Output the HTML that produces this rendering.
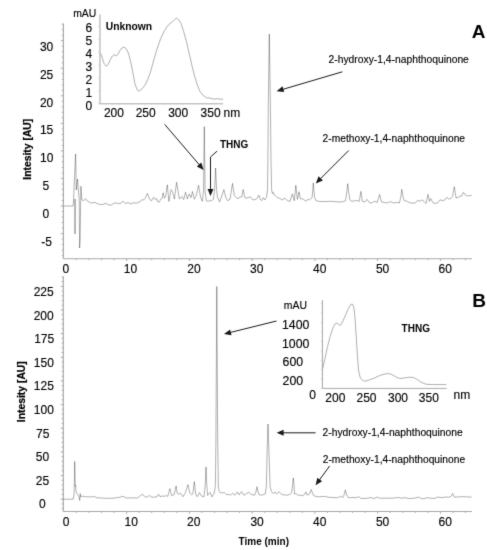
<!DOCTYPE html>
<html><head><meta charset="utf-8"><style>
html,body{margin:0;padding:0;background:#fff;}
svg{display:block;font-family:"Liberation Sans", sans-serif;}
</style></head><body>
<svg width="487" height="550" viewBox="0 0 487 550">
<defs><filter id="bl" x="0" y="0" width="487" height="550" filterUnits="userSpaceOnUse" color-interpolation-filters="sRGB"><feConvolveMatrix order="3" kernelMatrix="0.0113 0.0838 0.0113 0.0838 0.6193 0.0838 0.0113 0.0838 0.0113" divisor="1" edgeMode="duplicate"/></filter></defs>
<g filter="url(#bl)">
<rect width="487" height="550" fill="#fff"/>
<line x1="63.4" y1="23.5" x2="63.4" y2="258.7" stroke="#a9a9a9" stroke-width="1.2"/>
<line x1="61.8" y1="255.6" x2="63.4" y2="255.6" stroke="#a9a9a9" stroke-width="1.0"/>
<line x1="61.8" y1="250.1" x2="63.4" y2="250.1" stroke="#a9a9a9" stroke-width="1.0"/>
<line x1="61.8" y1="244.6" x2="63.4" y2="244.6" stroke="#a9a9a9" stroke-width="1.0"/>
<line x1="61.8" y1="239.1" x2="63.4" y2="239.1" stroke="#a9a9a9" stroke-width="1.0"/>
<line x1="60.8" y1="233.6" x2="63.4" y2="233.6" stroke="#a9a9a9" stroke-width="1.0"/>
<line x1="61.8" y1="228.0" x2="63.4" y2="228.0" stroke="#a9a9a9" stroke-width="1.0"/>
<line x1="61.8" y1="222.5" x2="63.4" y2="222.5" stroke="#a9a9a9" stroke-width="1.0"/>
<line x1="61.8" y1="217.0" x2="63.4" y2="217.0" stroke="#a9a9a9" stroke-width="1.0"/>
<line x1="61.8" y1="211.5" x2="63.4" y2="211.5" stroke="#a9a9a9" stroke-width="1.0"/>
<line x1="60.8" y1="206.0" x2="63.4" y2="206.0" stroke="#a9a9a9" stroke-width="1.0"/>
<line x1="61.8" y1="200.5" x2="63.4" y2="200.5" stroke="#a9a9a9" stroke-width="1.0"/>
<line x1="61.8" y1="195.0" x2="63.4" y2="195.0" stroke="#a9a9a9" stroke-width="1.0"/>
<line x1="61.8" y1="189.5" x2="63.4" y2="189.5" stroke="#a9a9a9" stroke-width="1.0"/>
<line x1="61.8" y1="184.0" x2="63.4" y2="184.0" stroke="#a9a9a9" stroke-width="1.0"/>
<line x1="60.8" y1="178.4" x2="63.4" y2="178.4" stroke="#a9a9a9" stroke-width="1.0"/>
<line x1="61.8" y1="172.9" x2="63.4" y2="172.9" stroke="#a9a9a9" stroke-width="1.0"/>
<line x1="61.8" y1="167.4" x2="63.4" y2="167.4" stroke="#a9a9a9" stroke-width="1.0"/>
<line x1="61.8" y1="161.9" x2="63.4" y2="161.9" stroke="#a9a9a9" stroke-width="1.0"/>
<line x1="61.8" y1="156.4" x2="63.4" y2="156.4" stroke="#a9a9a9" stroke-width="1.0"/>
<line x1="60.8" y1="150.9" x2="63.4" y2="150.9" stroke="#a9a9a9" stroke-width="1.0"/>
<line x1="61.8" y1="145.4" x2="63.4" y2="145.4" stroke="#a9a9a9" stroke-width="1.0"/>
<line x1="61.8" y1="139.9" x2="63.4" y2="139.9" stroke="#a9a9a9" stroke-width="1.0"/>
<line x1="61.8" y1="134.4" x2="63.4" y2="134.4" stroke="#a9a9a9" stroke-width="1.0"/>
<line x1="61.8" y1="128.9" x2="63.4" y2="128.9" stroke="#a9a9a9" stroke-width="1.0"/>
<line x1="60.8" y1="123.4" x2="63.4" y2="123.4" stroke="#a9a9a9" stroke-width="1.0"/>
<line x1="61.8" y1="117.8" x2="63.4" y2="117.8" stroke="#a9a9a9" stroke-width="1.0"/>
<line x1="61.8" y1="112.3" x2="63.4" y2="112.3" stroke="#a9a9a9" stroke-width="1.0"/>
<line x1="61.8" y1="106.8" x2="63.4" y2="106.8" stroke="#a9a9a9" stroke-width="1.0"/>
<line x1="61.8" y1="101.3" x2="63.4" y2="101.3" stroke="#a9a9a9" stroke-width="1.0"/>
<line x1="60.8" y1="95.8" x2="63.4" y2="95.8" stroke="#a9a9a9" stroke-width="1.0"/>
<line x1="61.8" y1="90.3" x2="63.4" y2="90.3" stroke="#a9a9a9" stroke-width="1.0"/>
<line x1="61.8" y1="84.8" x2="63.4" y2="84.8" stroke="#a9a9a9" stroke-width="1.0"/>
<line x1="61.8" y1="79.3" x2="63.4" y2="79.3" stroke="#a9a9a9" stroke-width="1.0"/>
<line x1="61.8" y1="73.8" x2="63.4" y2="73.8" stroke="#a9a9a9" stroke-width="1.0"/>
<line x1="60.8" y1="68.2" x2="63.4" y2="68.2" stroke="#a9a9a9" stroke-width="1.0"/>
<line x1="61.8" y1="62.7" x2="63.4" y2="62.7" stroke="#a9a9a9" stroke-width="1.0"/>
<line x1="61.8" y1="57.2" x2="63.4" y2="57.2" stroke="#a9a9a9" stroke-width="1.0"/>
<line x1="61.8" y1="51.7" x2="63.4" y2="51.7" stroke="#a9a9a9" stroke-width="1.0"/>
<line x1="61.8" y1="46.2" x2="63.4" y2="46.2" stroke="#a9a9a9" stroke-width="1.0"/>
<line x1="60.8" y1="40.7" x2="63.4" y2="40.7" stroke="#a9a9a9" stroke-width="1.0"/>
<line x1="61.8" y1="35.2" x2="63.4" y2="35.2" stroke="#a9a9a9" stroke-width="1.0"/>
<line x1="61.8" y1="29.7" x2="63.4" y2="29.7" stroke="#a9a9a9" stroke-width="1.0"/>
<line x1="61.8" y1="24.2" x2="63.4" y2="24.2" stroke="#a9a9a9" stroke-width="1.0"/>
<line x1="63.4" y1="258.7" x2="472" y2="258.7" stroke="#a9a9a9" stroke-width="1.15"/>
<line x1="76.4" y1="258.7" x2="76.4" y2="260.09999999999997" stroke="#a9a9a9" stroke-width="1.0"/>
<line x1="88.9" y1="258.7" x2="88.9" y2="260.09999999999997" stroke="#a9a9a9" stroke-width="1.0"/>
<line x1="101.5" y1="258.7" x2="101.5" y2="260.09999999999997" stroke="#a9a9a9" stroke-width="1.0"/>
<line x1="114.0" y1="258.7" x2="114.0" y2="260.09999999999997" stroke="#a9a9a9" stroke-width="1.0"/>
<line x1="126.6" y1="258.7" x2="126.6" y2="260.9" stroke="#a9a9a9" stroke-width="1.0"/>
<line x1="139.2" y1="258.7" x2="139.2" y2="260.09999999999997" stroke="#a9a9a9" stroke-width="1.0"/>
<line x1="151.7" y1="258.7" x2="151.7" y2="260.09999999999997" stroke="#a9a9a9" stroke-width="1.0"/>
<line x1="164.3" y1="258.7" x2="164.3" y2="260.09999999999997" stroke="#a9a9a9" stroke-width="1.0"/>
<line x1="176.8" y1="258.7" x2="176.8" y2="260.09999999999997" stroke="#a9a9a9" stroke-width="1.0"/>
<line x1="189.4" y1="258.7" x2="189.4" y2="260.9" stroke="#a9a9a9" stroke-width="1.0"/>
<line x1="201.9" y1="258.7" x2="201.9" y2="260.09999999999997" stroke="#a9a9a9" stroke-width="1.0"/>
<line x1="214.5" y1="258.7" x2="214.5" y2="260.09999999999997" stroke="#a9a9a9" stroke-width="1.0"/>
<line x1="227.0" y1="258.7" x2="227.0" y2="260.09999999999997" stroke="#a9a9a9" stroke-width="1.0"/>
<line x1="239.6" y1="258.7" x2="239.6" y2="260.09999999999997" stroke="#a9a9a9" stroke-width="1.0"/>
<line x1="252.1" y1="258.7" x2="252.1" y2="260.9" stroke="#a9a9a9" stroke-width="1.0"/>
<line x1="264.7" y1="258.7" x2="264.7" y2="260.09999999999997" stroke="#a9a9a9" stroke-width="1.0"/>
<line x1="277.2" y1="258.7" x2="277.2" y2="260.09999999999997" stroke="#a9a9a9" stroke-width="1.0"/>
<line x1="289.8" y1="258.7" x2="289.8" y2="260.09999999999997" stroke="#a9a9a9" stroke-width="1.0"/>
<line x1="302.3" y1="258.7" x2="302.3" y2="260.09999999999997" stroke="#a9a9a9" stroke-width="1.0"/>
<line x1="314.9" y1="258.7" x2="314.9" y2="260.9" stroke="#a9a9a9" stroke-width="1.0"/>
<line x1="327.4" y1="258.7" x2="327.4" y2="260.09999999999997" stroke="#a9a9a9" stroke-width="1.0"/>
<line x1="340.0" y1="258.7" x2="340.0" y2="260.09999999999997" stroke="#a9a9a9" stroke-width="1.0"/>
<line x1="352.5" y1="258.7" x2="352.5" y2="260.09999999999997" stroke="#a9a9a9" stroke-width="1.0"/>
<line x1="365.1" y1="258.7" x2="365.1" y2="260.09999999999997" stroke="#a9a9a9" stroke-width="1.0"/>
<line x1="377.6" y1="258.7" x2="377.6" y2="260.9" stroke="#a9a9a9" stroke-width="1.0"/>
<line x1="390.2" y1="258.7" x2="390.2" y2="260.09999999999997" stroke="#a9a9a9" stroke-width="1.0"/>
<line x1="402.7" y1="258.7" x2="402.7" y2="260.09999999999997" stroke="#a9a9a9" stroke-width="1.0"/>
<line x1="415.3" y1="258.7" x2="415.3" y2="260.09999999999997" stroke="#a9a9a9" stroke-width="1.0"/>
<line x1="427.8" y1="258.7" x2="427.8" y2="260.09999999999997" stroke="#a9a9a9" stroke-width="1.0"/>
<line x1="440.4" y1="258.7" x2="440.4" y2="260.9" stroke="#a9a9a9" stroke-width="1.0"/>
<line x1="453.0" y1="258.7" x2="453.0" y2="260.09999999999997" stroke="#a9a9a9" stroke-width="1.0"/>
<line x1="465.5" y1="258.7" x2="465.5" y2="260.09999999999997" stroke="#a9a9a9" stroke-width="1.0"/>
<text x="46.6" y="51.099999999999994" font-size="12" text-anchor="middle" font-weight="normal" fill="#000" stroke="#000" stroke-width="0.14" >30</text>
<text x="46.6" y="78.6" font-size="12" text-anchor="middle" font-weight="normal" fill="#000" stroke="#000" stroke-width="0.14" >25</text>
<text x="46.6" y="106.6" font-size="12" text-anchor="middle" font-weight="normal" fill="#000" stroke="#000" stroke-width="0.14" >20</text>
<text x="46.6" y="134.10000000000002" font-size="12" text-anchor="middle" font-weight="normal" fill="#000" stroke="#000" stroke-width="0.14" >15</text>
<text x="46.8" y="161.8" font-size="12" text-anchor="middle" font-weight="normal" fill="#000" stroke="#000" stroke-width="0.14" >10</text>
<text x="45.9" y="189.8" font-size="12" text-anchor="middle" font-weight="normal" fill="#000" stroke="#000" stroke-width="0.14" >5</text>
<text x="45.9" y="217.5" font-size="12" text-anchor="middle" font-weight="normal" fill="#000" stroke="#000" stroke-width="0.14" >0</text>
<text x="46.5" y="245.5" font-size="12" text-anchor="middle" font-weight="normal" fill="#000" stroke="#000" stroke-width="0.14" >-5</text>
<text x="65.9" y="273.3" font-size="12" text-anchor="middle" font-weight="normal" fill="#000" stroke="#000" stroke-width="0.14" >0</text>
<text x="130.5" y="273.3" font-size="12" text-anchor="middle" font-weight="normal" fill="#000" stroke="#000" stroke-width="0.14" >10</text>
<text x="193.9" y="273.3" font-size="12" text-anchor="middle" font-weight="normal" fill="#000" stroke="#000" stroke-width="0.14" >20</text>
<text x="256.7" y="273.3" font-size="12" text-anchor="middle" font-weight="normal" fill="#000" stroke="#000" stroke-width="0.14" >30</text>
<text x="319.8" y="273.3" font-size="12" text-anchor="middle" font-weight="normal" fill="#000" stroke="#000" stroke-width="0.14" >40</text>
<text x="382.6" y="273.3" font-size="12" text-anchor="middle" font-weight="normal" fill="#000" stroke="#000" stroke-width="0.14" >50</text>
<text x="445.3" y="273.3" font-size="12" text-anchor="middle" font-weight="normal" fill="#000" stroke="#000" stroke-width="0.14" >60</text>
<text x="0" y="0" font-size="10.35" font-weight="bold" fill="#000" stroke="#000" stroke-width="0.2" text-anchor="middle" transform="translate(31.4,149.2) rotate(-90)">Intesity [AU]</text>
<text x="478.6" y="38.0" font-size="19" text-anchor="middle" font-weight="bold" fill="#000" stroke="#000" stroke-width="0.0" >A</text>
<polyline points="63.8,206.0 73.1,206.0 73.4,203.0 75.6,154.0" fill="none" stroke="#000" stroke-opacity="0.33" stroke-width="0.95" stroke-linejoin="round"/>
<polyline points="75.6,154.0 76.3,190.0" fill="none" stroke="#000" stroke-opacity="0.33" stroke-width="0.95" stroke-linejoin="round"/>
<polyline points="76.3,190.0 77.5,179.0" fill="none" stroke="#000" stroke-opacity="0.33" stroke-width="0.95" stroke-linejoin="round"/>
<polyline points="77.5,179.0 78.6,193.0 79.2,198.0 79.6,248.0" fill="none" stroke="#000" stroke-opacity="0.33" stroke-width="0.95" stroke-linejoin="round"/>
<polyline points="79.6,248.0 80.1,240.0 80.9,186.3" fill="none" stroke="#000" stroke-opacity="0.33" stroke-width="0.95" stroke-linejoin="round"/>
<polyline points="80.9,186.3 81.8,199.7 83.6,200.8" fill="none" stroke="#000" stroke-opacity="0.33" stroke-width="0.95" stroke-linejoin="round"/>
<polyline points="83.6,200.8 85.5,198.6" fill="none" stroke="#000" stroke-opacity="0.33" stroke-width="0.95" stroke-linejoin="round"/>
<polyline points="85.5,198.6 87.6,201.2 90.5,202.8 92.9,202.8" fill="none" stroke="#000" stroke-opacity="0.33" stroke-width="0.95" stroke-linejoin="round"/>
<polyline points="92.9,202.8 95.4,202.5" fill="none" stroke="#000" stroke-opacity="0.33" stroke-width="0.95" stroke-linejoin="round"/>
<polyline points="95.4,202.5 97.2,203.7 99.7,204.3 102.2,204.6" fill="none" stroke="#000" stroke-opacity="0.33" stroke-width="0.95" stroke-linejoin="round"/>
<polyline points="102.2,204.6 105.3,203.4" fill="none" stroke="#000" stroke-opacity="0.33" stroke-width="0.95" stroke-linejoin="round"/>
<polyline points="105.3,203.4 107.7,204.3 110.2,205.3" fill="none" stroke="#000" stroke-opacity="0.33" stroke-width="0.95" stroke-linejoin="round"/>
<polyline points="110.2,205.3 112.0,204.6 114.5,202.8" fill="none" stroke="#000" stroke-opacity="0.33" stroke-width="0.95" stroke-linejoin="round"/>
<polyline points="114.5,202.8 117.0,203.2 120.0,203.7" fill="none" stroke="#000" stroke-opacity="0.33" stroke-width="0.95" stroke-linejoin="round"/>
<polyline points="120.0,203.7 123.1,201.2" fill="none" stroke="#000" stroke-opacity="0.33" stroke-width="0.95" stroke-linejoin="round"/>
<polyline points="123.1,201.2 125.6,203.7" fill="none" stroke="#000" stroke-opacity="0.33" stroke-width="0.95" stroke-linejoin="round"/>
<polyline points="125.6,203.7 128.0,202.4" fill="none" stroke="#000" stroke-opacity="0.33" stroke-width="0.95" stroke-linejoin="round"/>
<polyline points="128.0,202.4 130.5,204.0" fill="none" stroke="#000" stroke-opacity="0.33" stroke-width="0.95" stroke-linejoin="round"/>
<polyline points="130.5,204.0 133.0,202.8" fill="none" stroke="#000" stroke-opacity="0.33" stroke-width="0.95" stroke-linejoin="round"/>
<polyline points="133.0,202.8 136.0,203.2" fill="none" stroke="#000" stroke-opacity="0.33" stroke-width="0.95" stroke-linejoin="round"/>
<polyline points="136.0,203.2 138.1,202.6 140.5,201.4 142.4,199.3" fill="none" stroke="#000" stroke-opacity="0.33" stroke-width="0.95" stroke-linejoin="round"/>
<polyline points="142.4,199.3 143.6,200.2" fill="none" stroke="#000" stroke-opacity="0.33" stroke-width="0.95" stroke-linejoin="round"/>
<polyline points="143.6,200.2 145.5,197.7 147.3,193.4" fill="none" stroke="#000" stroke-opacity="0.33" stroke-width="0.95" stroke-linejoin="round"/>
<polyline points="147.3,193.4 148.6,196.5 149.8,199.6 151.6,200.8" fill="none" stroke="#000" stroke-opacity="0.33" stroke-width="0.95" stroke-linejoin="round"/>
<polyline points="151.6,200.8 153.5,197.3" fill="none" stroke="#000" stroke-opacity="0.33" stroke-width="0.95" stroke-linejoin="round"/>
<polyline points="153.5,197.3 155.3,199.6" fill="none" stroke="#000" stroke-opacity="0.33" stroke-width="0.95" stroke-linejoin="round"/>
<polyline points="155.3,199.6 156.6,198.6" fill="none" stroke="#000" stroke-opacity="0.33" stroke-width="0.95" stroke-linejoin="round"/>
<polyline points="156.6,198.6 157.8,201.8 159.0,202.3" fill="none" stroke="#000" stroke-opacity="0.33" stroke-width="0.95" stroke-linejoin="round"/>
<polyline points="159.0,202.3 160.9,199.0 162.1,198.3 163.1,192.8" fill="none" stroke="#000" stroke-opacity="0.33" stroke-width="0.95" stroke-linejoin="round"/>
<polyline points="163.1,192.8 164.3,198.3" fill="none" stroke="#000" stroke-opacity="0.33" stroke-width="0.95" stroke-linejoin="round"/>
<polyline points="164.3,198.3 165.6,196.5 167.3,184.8" fill="none" stroke="#000" stroke-opacity="0.33" stroke-width="0.95" stroke-linejoin="round"/>
<polyline points="167.3,184.8 168.9,201.4" fill="none" stroke="#000" stroke-opacity="0.33" stroke-width="0.95" stroke-linejoin="round"/>
<polyline points="168.9,201.4 171.0,189.7" fill="none" stroke="#000" stroke-opacity="0.33" stroke-width="0.95" stroke-linejoin="round"/>
<polyline points="171.0,189.7 172.6,191.6 174.4,199.0" fill="none" stroke="#000" stroke-opacity="0.33" stroke-width="0.95" stroke-linejoin="round"/>
<polyline points="174.4,199.0 176.6,182.3" fill="none" stroke="#000" stroke-opacity="0.33" stroke-width="0.95" stroke-linejoin="round"/>
<polyline points="176.6,182.3 178.1,191.6 179.4,199.0" fill="none" stroke="#000" stroke-opacity="0.33" stroke-width="0.95" stroke-linejoin="round"/>
<polyline points="179.4,199.0 181.8,196.5" fill="none" stroke="#000" stroke-opacity="0.33" stroke-width="0.95" stroke-linejoin="round"/>
<polyline points="181.8,196.5 183.7,199.6" fill="none" stroke="#000" stroke-opacity="0.33" stroke-width="0.95" stroke-linejoin="round"/>
<polyline points="183.7,199.6 185.5,192.2" fill="none" stroke="#000" stroke-opacity="0.33" stroke-width="0.95" stroke-linejoin="round"/>
<polyline points="185.5,192.2 187.4,199.0" fill="none" stroke="#000" stroke-opacity="0.33" stroke-width="0.95" stroke-linejoin="round"/>
<polyline points="187.4,199.0 189.2,194.0" fill="none" stroke="#000" stroke-opacity="0.33" stroke-width="0.95" stroke-linejoin="round"/>
<polyline points="189.2,194.0 191.1,197.7" fill="none" stroke="#000" stroke-opacity="0.33" stroke-width="0.95" stroke-linejoin="round"/>
<polyline points="191.1,197.7 192.4,191.5" fill="none" stroke="#000" stroke-opacity="0.33" stroke-width="0.95" stroke-linejoin="round"/>
<polyline points="192.4,191.5 194.4,199.2" fill="none" stroke="#000" stroke-opacity="0.33" stroke-width="0.95" stroke-linejoin="round"/>
<polyline points="194.4,199.2 196.2,195.7 198.6,185.3" fill="none" stroke="#000" stroke-opacity="0.33" stroke-width="0.95" stroke-linejoin="round"/>
<polyline points="198.6,185.3 200.5,197.0 202.3,201.3" fill="none" stroke="#000" stroke-opacity="0.33" stroke-width="0.95" stroke-linejoin="round"/>
<polyline points="202.3,201.3 203.5,190.8 204.3,126.6" fill="none" stroke="#000" stroke-opacity="0.33" stroke-width="0.95" stroke-linejoin="round"/>
<polyline points="204.3,126.6 205.1,190.8 206.3,200.7 207.9,201.3" fill="none" stroke="#000" stroke-opacity="0.33" stroke-width="0.95" stroke-linejoin="round"/>
<polyline points="207.9,201.3 209.7,200.7 211.6,200.7 213.4,199.4 214.6,190.0 215.6,168.0" fill="none" stroke="#000" stroke-opacity="0.33" stroke-width="0.95" stroke-linejoin="round"/>
<polyline points="215.6,168.0 216.6,190.0 217.4,197.0 219.6,201.9" fill="none" stroke="#000" stroke-opacity="0.33" stroke-width="0.95" stroke-linejoin="round"/>
<polyline points="219.6,201.9 221.4,197.0 223.9,189.6" fill="none" stroke="#000" stroke-opacity="0.33" stroke-width="0.95" stroke-linejoin="round"/>
<polyline points="223.9,189.6 225.7,197.0 227.6,200.7" fill="none" stroke="#000" stroke-opacity="0.33" stroke-width="0.95" stroke-linejoin="round"/>
<polyline points="227.6,200.7 230.0,199.4 232.5,183.4" fill="none" stroke="#000" stroke-opacity="0.33" stroke-width="0.95" stroke-linejoin="round"/>
<polyline points="232.5,183.4 234.4,195.7 236.2,197.6 238.0,198.8" fill="none" stroke="#000" stroke-opacity="0.33" stroke-width="0.95" stroke-linejoin="round"/>
<polyline points="238.0,198.8 239.9,197.0 241.7,197.0 243.2,189.6" fill="none" stroke="#000" stroke-opacity="0.33" stroke-width="0.95" stroke-linejoin="round"/>
<polyline points="243.2,189.6 244.8,197.6 246.7,198.2" fill="none" stroke="#000" stroke-opacity="0.33" stroke-width="0.95" stroke-linejoin="round"/>
<polyline points="246.7,198.2 247.5,197.6 250.5,197.0" fill="none" stroke="#000" stroke-opacity="0.33" stroke-width="0.95" stroke-linejoin="round"/>
<polyline points="250.5,197.0 253.0,200.0" fill="none" stroke="#000" stroke-opacity="0.33" stroke-width="0.95" stroke-linejoin="round"/>
<polyline points="253.0,200.0 255.5,199.4 257.3,198.2 258.8,195.1" fill="none" stroke="#000" stroke-opacity="0.33" stroke-width="0.95" stroke-linejoin="round"/>
<polyline points="258.8,195.1 260.4,199.4 261.6,200.7" fill="none" stroke="#000" stroke-opacity="0.33" stroke-width="0.95" stroke-linejoin="round"/>
<polyline points="261.6,200.7 263.2,197.6" fill="none" stroke="#000" stroke-opacity="0.33" stroke-width="0.95" stroke-linejoin="round"/>
<polyline points="263.2,197.6 264.7,200.0" fill="none" stroke="#000" stroke-opacity="0.33" stroke-width="0.95" stroke-linejoin="round"/>
<polyline points="264.7,200.0 266.6,197.0 267.5,190.0 267.9,160.0 268.3,106.0 269.3,34.0" fill="none" stroke="#000" stroke-opacity="0.33" stroke-width="0.95" stroke-linejoin="round"/>
<polyline points="269.3,34.0 270.4,106.0 271.0,160.0 271.6,189.6 272.4,193.5" fill="none" stroke="#000" stroke-opacity="0.33" stroke-width="0.95" stroke-linejoin="round"/>
<polyline points="272.4,193.5 273.3,192.4" fill="none" stroke="#000" stroke-opacity="0.33" stroke-width="0.95" stroke-linejoin="round"/>
<polyline points="273.3,192.4 274.2,195.0 275.2,195.7 277.3,197.6 279.5,198.2 282.0,200.0" fill="none" stroke="#000" stroke-opacity="0.33" stroke-width="0.95" stroke-linejoin="round"/>
<polyline points="282.0,200.0 285.0,198.2" fill="none" stroke="#000" stroke-opacity="0.33" stroke-width="0.95" stroke-linejoin="round"/>
<polyline points="285.0,198.2 287.5,200.7 290.0,201.3" fill="none" stroke="#000" stroke-opacity="0.33" stroke-width="0.95" stroke-linejoin="round"/>
<polyline points="290.0,201.3 292.4,193.9" fill="none" stroke="#000" stroke-opacity="0.33" stroke-width="0.95" stroke-linejoin="round"/>
<polyline points="292.4,193.9 294.3,200.7" fill="none" stroke="#000" stroke-opacity="0.33" stroke-width="0.95" stroke-linejoin="round"/>
<polyline points="294.3,200.7 295.8,185.3" fill="none" stroke="#000" stroke-opacity="0.33" stroke-width="0.95" stroke-linejoin="round"/>
<polyline points="295.8,185.3 297.4,199.4" fill="none" stroke="#000" stroke-opacity="0.33" stroke-width="0.95" stroke-linejoin="round"/>
<polyline points="297.4,199.4 299.0,191.8" fill="none" stroke="#000" stroke-opacity="0.33" stroke-width="0.95" stroke-linejoin="round"/>
<polyline points="299.0,191.8 300.4,198.8 302.3,198.8 304.3,200.0 306.2,201.3" fill="none" stroke="#000" stroke-opacity="0.33" stroke-width="0.95" stroke-linejoin="round"/>
<polyline points="306.2,201.3 307.6,199.4" fill="none" stroke="#000" stroke-opacity="0.33" stroke-width="0.95" stroke-linejoin="round"/>
<polyline points="307.6,199.4 309.2,200.0" fill="none" stroke="#000" stroke-opacity="0.33" stroke-width="0.95" stroke-linejoin="round"/>
<polyline points="309.2,200.0 310.5,198.8 312.1,197.6 313.3,182.8" fill="none" stroke="#000" stroke-opacity="0.33" stroke-width="0.95" stroke-linejoin="round"/>
<polyline points="313.3,182.8 314.5,197.0 316.0,200.7 318.5,201.3 324.6,201.6" fill="none" stroke="#000" stroke-opacity="0.33" stroke-width="0.95" stroke-linejoin="round"/>
<polyline points="324.6,201.6 330.8,201.3" fill="none" stroke="#000" stroke-opacity="0.33" stroke-width="0.95" stroke-linejoin="round"/>
<polyline points="330.8,201.3 337.0,201.9 341.9,201.9" fill="none" stroke="#000" stroke-opacity="0.33" stroke-width="0.95" stroke-linejoin="round"/>
<polyline points="341.9,201.9 345.6,200.7 346.8,192.0 347.7,183.7" fill="none" stroke="#000" stroke-opacity="0.33" stroke-width="0.95" stroke-linejoin="round"/>
<polyline points="347.7,183.7 348.7,192.0 349.9,200.0 351.7,201.3" fill="none" stroke="#000" stroke-opacity="0.33" stroke-width="0.95" stroke-linejoin="round"/>
<polyline points="351.7,201.3 355.4,200.7 357.5,200.7" fill="none" stroke="#000" stroke-opacity="0.33" stroke-width="0.95" stroke-linejoin="round"/>
<polyline points="357.5,200.7 359.3,201.3" fill="none" stroke="#000" stroke-opacity="0.33" stroke-width="0.95" stroke-linejoin="round"/>
<polyline points="359.3,201.3 360.9,191.4" fill="none" stroke="#000" stroke-opacity="0.33" stroke-width="0.95" stroke-linejoin="round"/>
<polyline points="360.9,191.4 362.4,201.3 364.9,201.9" fill="none" stroke="#000" stroke-opacity="0.33" stroke-width="0.95" stroke-linejoin="round"/>
<polyline points="364.9,201.9 367.1,199.4" fill="none" stroke="#000" stroke-opacity="0.33" stroke-width="0.95" stroke-linejoin="round"/>
<polyline points="367.1,199.4 369.2,202.5 371.0,203.1" fill="none" stroke="#000" stroke-opacity="0.33" stroke-width="0.95" stroke-linejoin="round"/>
<polyline points="371.0,203.1 373.5,201.9 375.3,201.3" fill="none" stroke="#000" stroke-opacity="0.33" stroke-width="0.95" stroke-linejoin="round"/>
<polyline points="375.3,201.3 377.2,202.5" fill="none" stroke="#000" stroke-opacity="0.33" stroke-width="0.95" stroke-linejoin="round"/>
<polyline points="377.2,202.5 379.6,194.5" fill="none" stroke="#000" stroke-opacity="0.33" stroke-width="0.95" stroke-linejoin="round"/>
<polyline points="379.6,194.5 381.5,201.9 384.6,202.5 387.6,202.9" fill="none" stroke="#000" stroke-opacity="0.33" stroke-width="0.95" stroke-linejoin="round"/>
<polyline points="387.6,202.9 390.7,201.6" fill="none" stroke="#000" stroke-opacity="0.33" stroke-width="0.95" stroke-linejoin="round"/>
<polyline points="390.7,201.6 393.2,202.9" fill="none" stroke="#000" stroke-opacity="0.33" stroke-width="0.95" stroke-linejoin="round"/>
<polyline points="393.2,202.9 396.9,202.5" fill="none" stroke="#000" stroke-opacity="0.33" stroke-width="0.95" stroke-linejoin="round"/>
<polyline points="396.9,202.5 399.4,202.9" fill="none" stroke="#000" stroke-opacity="0.33" stroke-width="0.95" stroke-linejoin="round"/>
<polyline points="399.4,202.9 400.8,197.0 401.8,189.3" fill="none" stroke="#000" stroke-opacity="0.33" stroke-width="0.95" stroke-linejoin="round"/>
<polyline points="401.8,189.3 403.0,197.0 404.3,200.7 407.4,201.3 409.2,202.5 411.7,203.1" fill="none" stroke="#000" stroke-opacity="0.33" stroke-width="0.95" stroke-linejoin="round"/>
<polyline points="411.7,203.1 415.3,203.0 417.3,200.7" fill="none" stroke="#000" stroke-opacity="0.33" stroke-width="0.95" stroke-linejoin="round"/>
<polyline points="417.3,200.7 420.0,201.1" fill="none" stroke="#000" stroke-opacity="0.33" stroke-width="0.95" stroke-linejoin="round"/>
<polyline points="420.0,201.1 422.0,199.8" fill="none" stroke="#000" stroke-opacity="0.33" stroke-width="0.95" stroke-linejoin="round"/>
<polyline points="422.0,199.8 424.0,201.4 426.0,203.4" fill="none" stroke="#000" stroke-opacity="0.33" stroke-width="0.95" stroke-linejoin="round"/>
<polyline points="426.0,203.4 428.0,194.4" fill="none" stroke="#000" stroke-opacity="0.33" stroke-width="0.95" stroke-linejoin="round"/>
<polyline points="428.0,194.4 429.4,201.4" fill="none" stroke="#000" stroke-opacity="0.33" stroke-width="0.95" stroke-linejoin="round"/>
<polyline points="429.4,201.4 430.7,198.5" fill="none" stroke="#000" stroke-opacity="0.33" stroke-width="0.95" stroke-linejoin="round"/>
<polyline points="430.7,198.5 432.7,202.5 434.7,203.4" fill="none" stroke="#000" stroke-opacity="0.33" stroke-width="0.95" stroke-linejoin="round"/>
<polyline points="434.7,203.4 437.4,203.0 440.0,199.8" fill="none" stroke="#000" stroke-opacity="0.33" stroke-width="0.95" stroke-linejoin="round"/>
<polyline points="440.0,199.8 442.7,200.7" fill="none" stroke="#000" stroke-opacity="0.33" stroke-width="0.95" stroke-linejoin="round"/>
<polyline points="442.7,200.7 444.7,200.0 446.7,197.4" fill="none" stroke="#000" stroke-opacity="0.33" stroke-width="0.95" stroke-linejoin="round"/>
<polyline points="446.7,197.4 448.7,199.0" fill="none" stroke="#000" stroke-opacity="0.33" stroke-width="0.95" stroke-linejoin="round"/>
<polyline points="448.7,199.0 450.7,198.7 452.5,196.7 454.3,186.7" fill="none" stroke="#000" stroke-opacity="0.33" stroke-width="0.95" stroke-linejoin="round"/>
<polyline points="454.3,186.7 456.1,198.0" fill="none" stroke="#000" stroke-opacity="0.33" stroke-width="0.95" stroke-linejoin="round"/>
<polyline points="456.1,198.0 458.1,197.4 460.1,195.8" fill="none" stroke="#000" stroke-opacity="0.33" stroke-width="0.95" stroke-linejoin="round"/>
<polyline points="460.1,195.8 461.4,196.3" fill="none" stroke="#000" stroke-opacity="0.33" stroke-width="0.95" stroke-linejoin="round"/>
<polyline points="461.4,196.3 463.4,192.3" fill="none" stroke="#000" stroke-opacity="0.33" stroke-width="0.95" stroke-linejoin="round"/>
<polyline points="463.4,192.3 465.4,195.0 467.4,195.8 469.4,195.8" fill="none" stroke="#000" stroke-opacity="0.33" stroke-width="0.95" stroke-linejoin="round"/>
<polyline points="469.4,195.8 471.7,195.4" fill="none" stroke="#000" stroke-opacity="0.33" stroke-width="0.95" stroke-linejoin="round"/>
<polyline points="74.8,199.0 75.0,234.0" fill="none" stroke="#000" stroke-opacity="0.33" stroke-width="0.95" stroke-linejoin="round"/>
<polyline points="75.0,234.0 75.3,199.0" fill="none" stroke="#000" stroke-opacity="0.33" stroke-width="0.95" stroke-linejoin="round"/>
<line x1="100.0" y1="14.5" x2="100.0" y2="103.8" stroke="#a9a9a9" stroke-width="1.0"/>
<line x1="100.0" y1="103.8" x2="223.0" y2="103.8" stroke="#a9a9a9" stroke-width="1.0"/>
<line x1="98.2" y1="103.8" x2="100.0" y2="103.8" stroke="#c0c0c0" stroke-width="0.8"/>
<line x1="99.0" y1="101.2" x2="100.0" y2="101.2" stroke="#c0c0c0" stroke-width="0.8"/>
<line x1="99.0" y1="98.6" x2="100.0" y2="98.6" stroke="#c0c0c0" stroke-width="0.8"/>
<line x1="99.0" y1="96.1" x2="100.0" y2="96.1" stroke="#c0c0c0" stroke-width="0.8"/>
<line x1="99.0" y1="93.5" x2="100.0" y2="93.5" stroke="#c0c0c0" stroke-width="0.8"/>
<line x1="98.2" y1="90.9" x2="100.0" y2="90.9" stroke="#c0c0c0" stroke-width="0.8"/>
<line x1="99.0" y1="88.3" x2="100.0" y2="88.3" stroke="#c0c0c0" stroke-width="0.8"/>
<line x1="99.0" y1="85.7" x2="100.0" y2="85.7" stroke="#c0c0c0" stroke-width="0.8"/>
<line x1="99.0" y1="83.2" x2="100.0" y2="83.2" stroke="#c0c0c0" stroke-width="0.8"/>
<line x1="99.0" y1="80.6" x2="100.0" y2="80.6" stroke="#c0c0c0" stroke-width="0.8"/>
<line x1="98.2" y1="78.0" x2="100.0" y2="78.0" stroke="#c0c0c0" stroke-width="0.8"/>
<line x1="99.0" y1="75.4" x2="100.0" y2="75.4" stroke="#c0c0c0" stroke-width="0.8"/>
<line x1="99.0" y1="72.8" x2="100.0" y2="72.8" stroke="#c0c0c0" stroke-width="0.8"/>
<line x1="99.0" y1="70.3" x2="100.0" y2="70.3" stroke="#c0c0c0" stroke-width="0.8"/>
<line x1="99.0" y1="67.7" x2="100.0" y2="67.7" stroke="#c0c0c0" stroke-width="0.8"/>
<line x1="98.2" y1="65.1" x2="100.0" y2="65.1" stroke="#c0c0c0" stroke-width="0.8"/>
<line x1="99.0" y1="62.5" x2="100.0" y2="62.5" stroke="#c0c0c0" stroke-width="0.8"/>
<line x1="99.0" y1="59.9" x2="100.0" y2="59.9" stroke="#c0c0c0" stroke-width="0.8"/>
<line x1="99.0" y1="57.4" x2="100.0" y2="57.4" stroke="#c0c0c0" stroke-width="0.8"/>
<line x1="99.0" y1="54.8" x2="100.0" y2="54.8" stroke="#c0c0c0" stroke-width="0.8"/>
<line x1="98.2" y1="52.2" x2="100.0" y2="52.2" stroke="#c0c0c0" stroke-width="0.8"/>
<line x1="99.0" y1="49.6" x2="100.0" y2="49.6" stroke="#c0c0c0" stroke-width="0.8"/>
<line x1="99.0" y1="47.0" x2="100.0" y2="47.0" stroke="#c0c0c0" stroke-width="0.8"/>
<line x1="99.0" y1="44.5" x2="100.0" y2="44.5" stroke="#c0c0c0" stroke-width="0.8"/>
<line x1="99.0" y1="41.9" x2="100.0" y2="41.9" stroke="#c0c0c0" stroke-width="0.8"/>
<line x1="98.2" y1="39.3" x2="100.0" y2="39.3" stroke="#c0c0c0" stroke-width="0.8"/>
<line x1="99.0" y1="36.7" x2="100.0" y2="36.7" stroke="#c0c0c0" stroke-width="0.8"/>
<line x1="99.0" y1="34.1" x2="100.0" y2="34.1" stroke="#c0c0c0" stroke-width="0.8"/>
<line x1="99.0" y1="31.6" x2="100.0" y2="31.6" stroke="#c0c0c0" stroke-width="0.8"/>
<line x1="99.0" y1="29.0" x2="100.0" y2="29.0" stroke="#c0c0c0" stroke-width="0.8"/>
<line x1="98.2" y1="26.4" x2="100.0" y2="26.4" stroke="#c0c0c0" stroke-width="0.8"/>
<line x1="99.0" y1="23.8" x2="100.0" y2="23.8" stroke="#c0c0c0" stroke-width="0.8"/>
<line x1="99.0" y1="21.2" x2="100.0" y2="21.2" stroke="#c0c0c0" stroke-width="0.8"/>
<line x1="99.0" y1="18.7" x2="100.0" y2="18.7" stroke="#c0c0c0" stroke-width="0.8"/>
<line x1="99.0" y1="16.1" x2="100.0" y2="16.1" stroke="#c0c0c0" stroke-width="0.8"/>
<line x1="106.4" y1="103.8" x2="106.4" y2="105.0" stroke="#d0d0d0" stroke-width="0.7"/>
<line x1="112.8" y1="103.8" x2="112.8" y2="105.0" stroke="#d0d0d0" stroke-width="0.7"/>
<line x1="119.2" y1="103.8" x2="119.2" y2="105.0" stroke="#d0d0d0" stroke-width="0.7"/>
<line x1="125.6" y1="103.8" x2="125.6" y2="105.0" stroke="#d0d0d0" stroke-width="0.7"/>
<line x1="132.0" y1="103.8" x2="132.0" y2="105.0" stroke="#d0d0d0" stroke-width="0.7"/>
<line x1="138.4" y1="103.8" x2="138.4" y2="105.0" stroke="#d0d0d0" stroke-width="0.7"/>
<line x1="144.8" y1="103.8" x2="144.8" y2="105.0" stroke="#d0d0d0" stroke-width="0.7"/>
<line x1="151.2" y1="103.8" x2="151.2" y2="105.0" stroke="#d0d0d0" stroke-width="0.7"/>
<line x1="157.6" y1="103.8" x2="157.6" y2="105.0" stroke="#d0d0d0" stroke-width="0.7"/>
<line x1="164.0" y1="103.8" x2="164.0" y2="105.0" stroke="#d0d0d0" stroke-width="0.7"/>
<line x1="170.4" y1="103.8" x2="170.4" y2="105.0" stroke="#d0d0d0" stroke-width="0.7"/>
<line x1="176.8" y1="103.8" x2="176.8" y2="105.0" stroke="#d0d0d0" stroke-width="0.7"/>
<line x1="183.2" y1="103.8" x2="183.2" y2="105.0" stroke="#d0d0d0" stroke-width="0.7"/>
<line x1="189.6" y1="103.8" x2="189.6" y2="105.0" stroke="#d0d0d0" stroke-width="0.7"/>
<line x1="196.0" y1="103.8" x2="196.0" y2="105.0" stroke="#d0d0d0" stroke-width="0.7"/>
<line x1="202.4" y1="103.8" x2="202.4" y2="105.0" stroke="#d0d0d0" stroke-width="0.7"/>
<line x1="208.8" y1="103.8" x2="208.8" y2="105.0" stroke="#d0d0d0" stroke-width="0.7"/>
<line x1="215.2" y1="103.8" x2="215.2" y2="105.0" stroke="#d0d0d0" stroke-width="0.7"/>
<line x1="221.6" y1="103.8" x2="221.6" y2="105.0" stroke="#d0d0d0" stroke-width="0.7"/>
<text x="88.8" y="31.8" font-size="12" text-anchor="middle" font-weight="normal" fill="#000" stroke="#000" stroke-width="0.14" >6</text>
<text x="88.8" y="44.699999999999996" font-size="12" text-anchor="middle" font-weight="normal" fill="#000" stroke="#000" stroke-width="0.14" >5</text>
<text x="88.8" y="57.8" font-size="12" text-anchor="middle" font-weight="normal" fill="#000" stroke="#000" stroke-width="0.14" >4</text>
<text x="88.8" y="71.1" font-size="12" text-anchor="middle" font-weight="normal" fill="#000" stroke="#000" stroke-width="0.14" >3</text>
<text x="88.8" y="84.3" font-size="12" text-anchor="middle" font-weight="normal" fill="#000" stroke="#000" stroke-width="0.14" >2</text>
<text x="88.8" y="97.3" font-size="12" text-anchor="middle" font-weight="normal" fill="#000" stroke="#000" stroke-width="0.14" >1</text>
<text x="88.8" y="110.1" font-size="12" text-anchor="middle" font-weight="normal" fill="#000" stroke="#000" stroke-width="0.14" >0</text>
<text x="113.9" y="117.0" font-size="12" text-anchor="middle" font-weight="normal" fill="#000" stroke="#000" stroke-width="0.14" >200</text>
<text x="145.7" y="117.0" font-size="12" text-anchor="middle" font-weight="normal" fill="#000" stroke="#000" stroke-width="0.14" >250</text>
<text x="178.2" y="117.0" font-size="12" text-anchor="middle" font-weight="normal" fill="#000" stroke="#000" stroke-width="0.14" >300</text>
<text x="210.6" y="117.0" font-size="12" text-anchor="middle" font-weight="normal" fill="#000" stroke="#000" stroke-width="0.14" >350</text>
<text x="223.6" y="117.0" font-size="12" text-anchor="start" font-weight="normal" fill="#000" stroke="#000" stroke-width="0.14" >nm</text>
<text x="73.2" y="16.7" font-size="10.4" text-anchor="start" font-weight="normal" fill="#000" stroke="#000" stroke-width="0.14" >mAU</text>
<text x="105.8" y="29.7" font-size="10.3" text-anchor="start" font-weight="bold" fill="#000" stroke="#000" stroke-width="0.0" >Unknown</text>
<polyline points="100.3,53.0 101.7,55.9 103.9,63.1 106.1,66.2 108.2,64.5 110.4,59.5 112.5,55.9 114.0,54.7 116.1,55.9 117.6,54.7 119.7,50.8 121.9,48.0 124.0,47.2 126.2,48.7 128.3,53.0 130.5,60.9 132.7,71.7 134.8,83.2 137.0,89.7 139.1,91.1 142.0,88.9 144.9,85.3 147.7,79.6 150.6,71.7 153.5,61.0 157.0,49.0 160.9,38.0 164.5,30.5 168.2,25.0 171.8,22.3 174.5,19.5 176.4,18.3 178.2,19.2 180.9,23.2 183.6,31.4 186.4,41.4 189.1,53.2 191.8,65.0 194.5,75.9 197.3,85.0 200.0,91.4 202.7,95.0 206.4,97.7 210.0,98.1 213.6,99.2 217.3,98.6 220.0,99.2 223.2,99.2" fill="none" stroke="#afafaf" stroke-width="1.0" stroke-linejoin="round"/>
<text x="328.6" y="63.1" font-size="10.3" text-anchor="start" font-weight="normal" fill="#000" stroke="#000" stroke-width="0.14" >2-hydroxy-1,4-naphthoquinone</text>
<polyline points="342.3,71.8 282.0,89.6" fill="none" stroke="#1a1a1a" stroke-width="1.0"/>
<polygon points="276.6,91.2 282.5,86.3 284.2,92.1" fill="#1a1a1a"/>
<text x="322.6" y="142.2" font-size="10.25" text-anchor="start" font-weight="normal" fill="#000" stroke="#000" stroke-width="0.14" >2-methoxy-1,4-naphthoquinone</text>
<polyline points="348.7,150.5 319.8,179.4" fill="none" stroke="#1a1a1a" stroke-width="1.0"/>
<polygon points="315.8,183.4 318.6,176.3 322.9,180.6" fill="#1a1a1a"/>
<polyline points="164.7,124.4 200.0,165.6" fill="none" stroke="#1a1a1a" stroke-width="1.0"/>
<polygon points="203.6,169.9 196.8,166.5 201.3,162.6" fill="#1a1a1a"/>
<polyline points="217.1,151.1 210.5,157.0 210.5,190.4" fill="none" stroke="#1a1a1a" stroke-width="1.0"/>
<polygon points="210.5,196.0 207.5,189.0 213.5,189.0" fill="#1a1a1a"/>
<text x="220.0" y="148.0" font-size="10" text-anchor="start" font-weight="bold" fill="#000" stroke="#000" stroke-width="0.0" >THNG</text>
<line x1="63.3" y1="276.4" x2="63.3" y2="511.5" stroke="#a9a9a9" stroke-width="1.2"/>
<line x1="61.699999999999996" y1="508.7" x2="63.3" y2="508.7" stroke="#a9a9a9" stroke-width="1.0"/>
<line x1="61.699999999999996" y1="503.9" x2="63.3" y2="503.9" stroke="#a9a9a9" stroke-width="1.0"/>
<line x1="60.699999999999996" y1="499.2" x2="63.3" y2="499.2" stroke="#a9a9a9" stroke-width="1.0"/>
<line x1="61.699999999999996" y1="494.5" x2="63.3" y2="494.5" stroke="#a9a9a9" stroke-width="1.0"/>
<line x1="61.699999999999996" y1="489.7" x2="63.3" y2="489.7" stroke="#a9a9a9" stroke-width="1.0"/>
<line x1="61.699999999999996" y1="485.0" x2="63.3" y2="485.0" stroke="#a9a9a9" stroke-width="1.0"/>
<line x1="61.699999999999996" y1="480.3" x2="63.3" y2="480.3" stroke="#a9a9a9" stroke-width="1.0"/>
<line x1="60.699999999999996" y1="475.6" x2="63.3" y2="475.6" stroke="#a9a9a9" stroke-width="1.0"/>
<line x1="61.699999999999996" y1="470.8" x2="63.3" y2="470.8" stroke="#a9a9a9" stroke-width="1.0"/>
<line x1="61.699999999999996" y1="466.1" x2="63.3" y2="466.1" stroke="#a9a9a9" stroke-width="1.0"/>
<line x1="61.699999999999996" y1="461.4" x2="63.3" y2="461.4" stroke="#a9a9a9" stroke-width="1.0"/>
<line x1="61.699999999999996" y1="456.6" x2="63.3" y2="456.6" stroke="#a9a9a9" stroke-width="1.0"/>
<line x1="60.699999999999996" y1="451.9" x2="63.3" y2="451.9" stroke="#a9a9a9" stroke-width="1.0"/>
<line x1="61.699999999999996" y1="447.2" x2="63.3" y2="447.2" stroke="#a9a9a9" stroke-width="1.0"/>
<line x1="61.699999999999996" y1="442.4" x2="63.3" y2="442.4" stroke="#a9a9a9" stroke-width="1.0"/>
<line x1="61.699999999999996" y1="437.7" x2="63.3" y2="437.7" stroke="#a9a9a9" stroke-width="1.0"/>
<line x1="61.699999999999996" y1="433.0" x2="63.3" y2="433.0" stroke="#a9a9a9" stroke-width="1.0"/>
<line x1="60.699999999999996" y1="428.2" x2="63.3" y2="428.2" stroke="#a9a9a9" stroke-width="1.0"/>
<line x1="61.699999999999996" y1="423.5" x2="63.3" y2="423.5" stroke="#a9a9a9" stroke-width="1.0"/>
<line x1="61.699999999999996" y1="418.8" x2="63.3" y2="418.8" stroke="#a9a9a9" stroke-width="1.0"/>
<line x1="61.699999999999996" y1="414.1" x2="63.3" y2="414.1" stroke="#a9a9a9" stroke-width="1.0"/>
<line x1="61.699999999999996" y1="409.3" x2="63.3" y2="409.3" stroke="#a9a9a9" stroke-width="1.0"/>
<line x1="60.699999999999996" y1="404.6" x2="63.3" y2="404.6" stroke="#a9a9a9" stroke-width="1.0"/>
<line x1="61.699999999999996" y1="399.9" x2="63.3" y2="399.9" stroke="#a9a9a9" stroke-width="1.0"/>
<line x1="61.699999999999996" y1="395.1" x2="63.3" y2="395.1" stroke="#a9a9a9" stroke-width="1.0"/>
<line x1="61.699999999999996" y1="390.4" x2="63.3" y2="390.4" stroke="#a9a9a9" stroke-width="1.0"/>
<line x1="61.699999999999996" y1="385.7" x2="63.3" y2="385.7" stroke="#a9a9a9" stroke-width="1.0"/>
<line x1="60.699999999999996" y1="380.9" x2="63.3" y2="380.9" stroke="#a9a9a9" stroke-width="1.0"/>
<line x1="61.699999999999996" y1="376.2" x2="63.3" y2="376.2" stroke="#a9a9a9" stroke-width="1.0"/>
<line x1="61.699999999999996" y1="371.5" x2="63.3" y2="371.5" stroke="#a9a9a9" stroke-width="1.0"/>
<line x1="61.699999999999996" y1="366.8" x2="63.3" y2="366.8" stroke="#a9a9a9" stroke-width="1.0"/>
<line x1="61.699999999999996" y1="362.0" x2="63.3" y2="362.0" stroke="#a9a9a9" stroke-width="1.0"/>
<line x1="60.699999999999996" y1="357.3" x2="63.3" y2="357.3" stroke="#a9a9a9" stroke-width="1.0"/>
<line x1="61.699999999999996" y1="352.6" x2="63.3" y2="352.6" stroke="#a9a9a9" stroke-width="1.0"/>
<line x1="61.699999999999996" y1="347.8" x2="63.3" y2="347.8" stroke="#a9a9a9" stroke-width="1.0"/>
<line x1="61.699999999999996" y1="343.1" x2="63.3" y2="343.1" stroke="#a9a9a9" stroke-width="1.0"/>
<line x1="61.699999999999996" y1="338.4" x2="63.3" y2="338.4" stroke="#a9a9a9" stroke-width="1.0"/>
<line x1="60.699999999999996" y1="333.6" x2="63.3" y2="333.6" stroke="#a9a9a9" stroke-width="1.0"/>
<line x1="61.699999999999996" y1="328.9" x2="63.3" y2="328.9" stroke="#a9a9a9" stroke-width="1.0"/>
<line x1="61.699999999999996" y1="324.2" x2="63.3" y2="324.2" stroke="#a9a9a9" stroke-width="1.0"/>
<line x1="61.699999999999996" y1="319.5" x2="63.3" y2="319.5" stroke="#a9a9a9" stroke-width="1.0"/>
<line x1="61.699999999999996" y1="314.7" x2="63.3" y2="314.7" stroke="#a9a9a9" stroke-width="1.0"/>
<line x1="60.699999999999996" y1="310.0" x2="63.3" y2="310.0" stroke="#a9a9a9" stroke-width="1.0"/>
<line x1="61.699999999999996" y1="305.3" x2="63.3" y2="305.3" stroke="#a9a9a9" stroke-width="1.0"/>
<line x1="61.699999999999996" y1="300.5" x2="63.3" y2="300.5" stroke="#a9a9a9" stroke-width="1.0"/>
<line x1="61.699999999999996" y1="295.8" x2="63.3" y2="295.8" stroke="#a9a9a9" stroke-width="1.0"/>
<line x1="61.699999999999996" y1="291.1" x2="63.3" y2="291.1" stroke="#a9a9a9" stroke-width="1.0"/>
<line x1="60.699999999999996" y1="286.4" x2="63.3" y2="286.4" stroke="#a9a9a9" stroke-width="1.0"/>
<line x1="61.699999999999996" y1="281.6" x2="63.3" y2="281.6" stroke="#a9a9a9" stroke-width="1.0"/>
<line x1="61.699999999999996" y1="276.9" x2="63.3" y2="276.9" stroke="#a9a9a9" stroke-width="1.0"/>
<line x1="63.3" y1="511.5" x2="472" y2="511.5" stroke="#a9a9a9" stroke-width="1.15"/>
<line x1="76.4" y1="511.5" x2="76.4" y2="512.9" stroke="#a9a9a9" stroke-width="1.0"/>
<line x1="88.9" y1="511.5" x2="88.9" y2="512.9" stroke="#a9a9a9" stroke-width="1.0"/>
<line x1="101.5" y1="511.5" x2="101.5" y2="512.9" stroke="#a9a9a9" stroke-width="1.0"/>
<line x1="114.0" y1="511.5" x2="114.0" y2="512.9" stroke="#a9a9a9" stroke-width="1.0"/>
<line x1="126.6" y1="511.5" x2="126.6" y2="513.7" stroke="#a9a9a9" stroke-width="1.0"/>
<line x1="139.2" y1="511.5" x2="139.2" y2="512.9" stroke="#a9a9a9" stroke-width="1.0"/>
<line x1="151.7" y1="511.5" x2="151.7" y2="512.9" stroke="#a9a9a9" stroke-width="1.0"/>
<line x1="164.3" y1="511.5" x2="164.3" y2="512.9" stroke="#a9a9a9" stroke-width="1.0"/>
<line x1="176.8" y1="511.5" x2="176.8" y2="512.9" stroke="#a9a9a9" stroke-width="1.0"/>
<line x1="189.4" y1="511.5" x2="189.4" y2="513.7" stroke="#a9a9a9" stroke-width="1.0"/>
<line x1="201.9" y1="511.5" x2="201.9" y2="512.9" stroke="#a9a9a9" stroke-width="1.0"/>
<line x1="214.5" y1="511.5" x2="214.5" y2="512.9" stroke="#a9a9a9" stroke-width="1.0"/>
<line x1="227.0" y1="511.5" x2="227.0" y2="512.9" stroke="#a9a9a9" stroke-width="1.0"/>
<line x1="239.6" y1="511.5" x2="239.6" y2="512.9" stroke="#a9a9a9" stroke-width="1.0"/>
<line x1="252.1" y1="511.5" x2="252.1" y2="513.7" stroke="#a9a9a9" stroke-width="1.0"/>
<line x1="264.7" y1="511.5" x2="264.7" y2="512.9" stroke="#a9a9a9" stroke-width="1.0"/>
<line x1="277.2" y1="511.5" x2="277.2" y2="512.9" stroke="#a9a9a9" stroke-width="1.0"/>
<line x1="289.8" y1="511.5" x2="289.8" y2="512.9" stroke="#a9a9a9" stroke-width="1.0"/>
<line x1="302.3" y1="511.5" x2="302.3" y2="512.9" stroke="#a9a9a9" stroke-width="1.0"/>
<line x1="314.9" y1="511.5" x2="314.9" y2="513.7" stroke="#a9a9a9" stroke-width="1.0"/>
<line x1="327.4" y1="511.5" x2="327.4" y2="512.9" stroke="#a9a9a9" stroke-width="1.0"/>
<line x1="340.0" y1="511.5" x2="340.0" y2="512.9" stroke="#a9a9a9" stroke-width="1.0"/>
<line x1="352.5" y1="511.5" x2="352.5" y2="512.9" stroke="#a9a9a9" stroke-width="1.0"/>
<line x1="365.1" y1="511.5" x2="365.1" y2="512.9" stroke="#a9a9a9" stroke-width="1.0"/>
<line x1="377.6" y1="511.5" x2="377.6" y2="513.7" stroke="#a9a9a9" stroke-width="1.0"/>
<line x1="390.2" y1="511.5" x2="390.2" y2="512.9" stroke="#a9a9a9" stroke-width="1.0"/>
<line x1="402.7" y1="511.5" x2="402.7" y2="512.9" stroke="#a9a9a9" stroke-width="1.0"/>
<line x1="415.3" y1="511.5" x2="415.3" y2="512.9" stroke="#a9a9a9" stroke-width="1.0"/>
<line x1="427.8" y1="511.5" x2="427.8" y2="512.9" stroke="#a9a9a9" stroke-width="1.0"/>
<line x1="440.4" y1="511.5" x2="440.4" y2="513.7" stroke="#a9a9a9" stroke-width="1.0"/>
<line x1="453.0" y1="511.5" x2="453.0" y2="512.9" stroke="#a9a9a9" stroke-width="1.0"/>
<line x1="465.5" y1="511.5" x2="465.5" y2="512.9" stroke="#a9a9a9" stroke-width="1.0"/>
<text x="43.7" y="296.3" font-size="12" text-anchor="middle" font-weight="normal" fill="#000" stroke="#000" stroke-width="0.14" >225</text>
<text x="43.7" y="319.90000000000003" font-size="12" text-anchor="middle" font-weight="normal" fill="#000" stroke="#000" stroke-width="0.14" >200</text>
<text x="44.2" y="343.1" font-size="12" text-anchor="middle" font-weight="normal" fill="#000" stroke="#000" stroke-width="0.14" >175</text>
<text x="43.8" y="366.7" font-size="12" text-anchor="middle" font-weight="normal" fill="#000" stroke="#000" stroke-width="0.14" >150</text>
<text x="43.8" y="389.6" font-size="12" text-anchor="middle" font-weight="normal" fill="#000" stroke="#000" stroke-width="0.14" >125</text>
<text x="43.8" y="414.0" font-size="12" text-anchor="middle" font-weight="normal" fill="#000" stroke="#000" stroke-width="0.14" >100</text>
<text x="42.8" y="437.5" font-size="12" text-anchor="middle" font-weight="normal" fill="#000" stroke="#000" stroke-width="0.14" >75</text>
<text x="42.5" y="461.1" font-size="12" text-anchor="middle" font-weight="normal" fill="#000" stroke="#000" stroke-width="0.14" >50</text>
<text x="42.5" y="484.7" font-size="12" text-anchor="middle" font-weight="normal" fill="#000" stroke="#000" stroke-width="0.14" >25</text>
<text x="42.3" y="508.40000000000003" font-size="12" text-anchor="middle" font-weight="normal" fill="#000" stroke="#000" stroke-width="0.14" >0</text>
<text x="66.1" y="526.1999999999999" font-size="12" text-anchor="middle" font-weight="normal" fill="#000" stroke="#000" stroke-width="0.14" >0</text>
<text x="131.2" y="526.1999999999999" font-size="12" text-anchor="middle" font-weight="normal" fill="#000" stroke="#000" stroke-width="0.14" >10</text>
<text x="193.7" y="526.1999999999999" font-size="12" text-anchor="middle" font-weight="normal" fill="#000" stroke="#000" stroke-width="0.14" >20</text>
<text x="257.1" y="526.1999999999999" font-size="12" text-anchor="middle" font-weight="normal" fill="#000" stroke="#000" stroke-width="0.14" >30</text>
<text x="319.8" y="526.1999999999999" font-size="12" text-anchor="middle" font-weight="normal" fill="#000" stroke="#000" stroke-width="0.14" >40</text>
<text x="382.6" y="526.1999999999999" font-size="12" text-anchor="middle" font-weight="normal" fill="#000" stroke="#000" stroke-width="0.14" >50</text>
<text x="445.3" y="526.1999999999999" font-size="12" text-anchor="middle" font-weight="normal" fill="#000" stroke="#000" stroke-width="0.14" >60</text>
<text x="0" y="0" font-size="10.35" font-weight="bold" fill="#000" stroke="#000" stroke-width="0.2" text-anchor="middle" transform="translate(24.5,391.7) rotate(-90)">Intesity [AU]</text>
<text x="479.0" y="306.5" font-size="19" text-anchor="middle" font-weight="bold" fill="#000" stroke="#000" stroke-width="0.0" >B</text>
<text x="238.6" y="545.3" font-size="10" text-anchor="start" font-weight="bold" fill="#000" stroke="#000" stroke-width="0.0" >Time (min)</text>
<polyline points="63.3,499.2 73.3,499.2 74.1,494.0 74.7,461.5" fill="none" stroke="#000" stroke-opacity="0.33" stroke-width="0.95" stroke-linejoin="round"/>
<polyline points="74.7,461.5 75.3,486.5" fill="none" stroke="#000" stroke-opacity="0.33" stroke-width="0.95" stroke-linejoin="round"/>
<polyline points="75.3,486.5 75.7,485.5" fill="none" stroke="#000" stroke-opacity="0.33" stroke-width="0.95" stroke-linejoin="round"/>
<polyline points="75.7,485.5 76.0,491.5 77.5,494.5 79.2,497.0 79.7,500.5" fill="none" stroke="#000" stroke-opacity="0.33" stroke-width="0.95" stroke-linejoin="round"/>
<polyline points="79.7,500.5 80.2,493.5" fill="none" stroke="#000" stroke-opacity="0.33" stroke-width="0.95" stroke-linejoin="round"/>
<polyline points="80.2,493.5 80.7,497.0" fill="none" stroke="#000" stroke-opacity="0.33" stroke-width="0.95" stroke-linejoin="round"/>
<polyline points="80.7,497.0 81.5,496.4 82.3,496.2" fill="none" stroke="#000" stroke-opacity="0.33" stroke-width="0.95" stroke-linejoin="round"/>
<polyline points="82.3,496.2 86.6,496.8 91.6,496.8" fill="none" stroke="#000" stroke-opacity="0.33" stroke-width="0.95" stroke-linejoin="round"/>
<polyline points="91.6,496.8 94.6,496.6" fill="none" stroke="#000" stroke-opacity="0.33" stroke-width="0.95" stroke-linejoin="round"/>
<polyline points="94.6,496.6 96.5,497.8 101.4,498.0 106.4,498.3 111.3,498.3" fill="none" stroke="#000" stroke-opacity="0.33" stroke-width="0.95" stroke-linejoin="round"/>
<polyline points="111.3,498.3 116.2,497.8 120.0,497.2 123.1,496.3" fill="none" stroke="#000" stroke-opacity="0.33" stroke-width="0.95" stroke-linejoin="round"/>
<polyline points="123.1,496.3 126.2,497.9 132.3,497.9 137.9,497.9" fill="none" stroke="#000" stroke-opacity="0.33" stroke-width="0.95" stroke-linejoin="round"/>
<polyline points="137.9,497.9 140.3,495.7 142.4,494.2" fill="none" stroke="#000" stroke-opacity="0.33" stroke-width="0.95" stroke-linejoin="round"/>
<polyline points="142.4,494.2 144.0,496.0 145.9,497.2" fill="none" stroke="#000" stroke-opacity="0.33" stroke-width="0.95" stroke-linejoin="round"/>
<polyline points="145.9,497.2 147.7,496.7 149.6,495.5" fill="none" stroke="#000" stroke-opacity="0.33" stroke-width="0.95" stroke-linejoin="round"/>
<polyline points="149.6,495.5 151.4,497.0 154.5,497.2" fill="none" stroke="#000" stroke-opacity="0.33" stroke-width="0.95" stroke-linejoin="round"/>
<polyline points="154.5,497.2 157.0,496.7 158.6,494.2" fill="none" stroke="#000" stroke-opacity="0.33" stroke-width="0.95" stroke-linejoin="round"/>
<polyline points="158.6,494.2 160.0,496.7" fill="none" stroke="#000" stroke-opacity="0.33" stroke-width="0.95" stroke-linejoin="round"/>
<polyline points="160.0,496.7 161.9,496.0" fill="none" stroke="#000" stroke-opacity="0.33" stroke-width="0.95" stroke-linejoin="round"/>
<polyline points="161.9,496.0 164.4,496.3" fill="none" stroke="#000" stroke-opacity="0.33" stroke-width="0.95" stroke-linejoin="round"/>
<polyline points="164.4,496.3 166.2,495.7" fill="none" stroke="#000" stroke-opacity="0.33" stroke-width="0.95" stroke-linejoin="round"/>
<polyline points="166.2,495.7 167.8,496.3" fill="none" stroke="#000" stroke-opacity="0.33" stroke-width="0.95" stroke-linejoin="round"/>
<polyline points="167.8,496.3 169.9,488.6" fill="none" stroke="#000" stroke-opacity="0.33" stroke-width="0.95" stroke-linejoin="round"/>
<polyline points="169.9,488.6 171.7,495.7" fill="none" stroke="#000" stroke-opacity="0.33" stroke-width="0.95" stroke-linejoin="round"/>
<polyline points="171.7,495.7 174.2,494.5 176.1,485.9" fill="none" stroke="#000" stroke-opacity="0.33" stroke-width="0.95" stroke-linejoin="round"/>
<polyline points="176.1,485.9 177.2,493.2 178.7,494.2" fill="none" stroke="#000" stroke-opacity="0.33" stroke-width="0.95" stroke-linejoin="round"/>
<polyline points="178.7,494.2 180.5,493.2" fill="none" stroke="#000" stroke-opacity="0.33" stroke-width="0.95" stroke-linejoin="round"/>
<polyline points="180.5,493.2 183.0,496.7" fill="none" stroke="#000" stroke-opacity="0.33" stroke-width="0.95" stroke-linejoin="round"/>
<polyline points="183.0,496.7 185.5,492.4 187.9,484.6" fill="none" stroke="#000" stroke-opacity="0.33" stroke-width="0.95" stroke-linejoin="round"/>
<polyline points="187.9,484.6 189.8,493.0 191.6,494.8" fill="none" stroke="#000" stroke-opacity="0.33" stroke-width="0.95" stroke-linejoin="round"/>
<polyline points="191.6,494.8 192.9,493.6 194.3,481.6" fill="none" stroke="#000" stroke-opacity="0.33" stroke-width="0.95" stroke-linejoin="round"/>
<polyline points="194.3,481.6 195.7,494.2 197.2,496.7" fill="none" stroke="#000" stroke-opacity="0.33" stroke-width="0.95" stroke-linejoin="round"/>
<polyline points="197.2,496.7 199.4,492.7" fill="none" stroke="#000" stroke-opacity="0.33" stroke-width="0.95" stroke-linejoin="round"/>
<polyline points="199.4,492.7 201.5,496.1 204.0,496.7" fill="none" stroke="#000" stroke-opacity="0.33" stroke-width="0.95" stroke-linejoin="round"/>
<polyline points="204.0,496.7 205.2,485.0 206.0,466.9" fill="none" stroke="#000" stroke-opacity="0.33" stroke-width="0.95" stroke-linejoin="round"/>
<polyline points="206.0,466.9 206.8,485.0 207.6,495.4" fill="none" stroke="#000" stroke-opacity="0.33" stroke-width="0.95" stroke-linejoin="round"/>
<polyline points="207.6,495.4 210.1,492.4" fill="none" stroke="#000" stroke-opacity="0.33" stroke-width="0.95" stroke-linejoin="round"/>
<polyline points="210.1,492.4 212.0,496.9" fill="none" stroke="#000" stroke-opacity="0.33" stroke-width="0.95" stroke-linejoin="round"/>
<polyline points="212.0,496.9 214.4,492.4 215.4,485.0 215.9,440.0 216.8,286.5" fill="none" stroke="#000" stroke-opacity="0.33" stroke-width="0.95" stroke-linejoin="round"/>
<polyline points="216.8,286.5 217.7,440.0 218.3,485.0 218.8,490.0 220.0,492.4 221.8,493.0" fill="none" stroke="#000" stroke-opacity="0.33" stroke-width="0.95" stroke-linejoin="round"/>
<polyline points="221.8,493.0 224.3,492.4" fill="none" stroke="#000" stroke-opacity="0.33" stroke-width="0.95" stroke-linejoin="round"/>
<polyline points="224.3,492.4 226.7,494.8" fill="none" stroke="#000" stroke-opacity="0.33" stroke-width="0.95" stroke-linejoin="round"/>
<polyline points="226.7,494.8 229.2,494.2" fill="none" stroke="#000" stroke-opacity="0.33" stroke-width="0.95" stroke-linejoin="round"/>
<polyline points="229.2,494.2 230.4,495.4" fill="none" stroke="#000" stroke-opacity="0.33" stroke-width="0.95" stroke-linejoin="round"/>
<polyline points="230.4,495.4 232.4,493.4" fill="none" stroke="#000" stroke-opacity="0.33" stroke-width="0.95" stroke-linejoin="round"/>
<polyline points="232.4,493.4 234.9,495.2" fill="none" stroke="#000" stroke-opacity="0.33" stroke-width="0.95" stroke-linejoin="round"/>
<polyline points="234.9,495.2 237.4,491.9" fill="none" stroke="#000" stroke-opacity="0.33" stroke-width="0.95" stroke-linejoin="round"/>
<polyline points="237.4,491.9 239.0,494.9" fill="none" stroke="#000" stroke-opacity="0.33" stroke-width="0.95" stroke-linejoin="round"/>
<polyline points="239.0,494.9 241.5,491.6" fill="none" stroke="#000" stroke-opacity="0.33" stroke-width="0.95" stroke-linejoin="round"/>
<polyline points="241.5,491.6 243.9,495.2" fill="none" stroke="#000" stroke-opacity="0.33" stroke-width="0.95" stroke-linejoin="round"/>
<polyline points="243.9,495.2 246.4,493.6 248.8,492.3" fill="none" stroke="#000" stroke-opacity="0.33" stroke-width="0.95" stroke-linejoin="round"/>
<polyline points="248.8,492.3 251.3,494.4 254.5,495.2" fill="none" stroke="#000" stroke-opacity="0.33" stroke-width="0.95" stroke-linejoin="round"/>
<polyline points="254.5,495.2 255.9,492.0 257.0,486.7" fill="none" stroke="#000" stroke-opacity="0.33" stroke-width="0.95" stroke-linejoin="round"/>
<polyline points="257.0,486.7 258.1,492.0 258.8,494.4 261.9,495.2" fill="none" stroke="#000" stroke-opacity="0.33" stroke-width="0.95" stroke-linejoin="round"/>
<polyline points="261.9,495.2 265.2,493.9 266.3,487.0 267.2,450.0 268.0,424.0" fill="none" stroke="#000" stroke-opacity="0.33" stroke-width="0.95" stroke-linejoin="round"/>
<polyline points="268.0,424.0 268.9,450.0 270.1,487.0 271.7,491.9 273.4,493.6" fill="none" stroke="#000" stroke-opacity="0.33" stroke-width="0.95" stroke-linejoin="round"/>
<polyline points="273.4,493.6 275.0,491.9" fill="none" stroke="#000" stroke-opacity="0.33" stroke-width="0.95" stroke-linejoin="round"/>
<polyline points="275.0,491.9 276.6,493.9" fill="none" stroke="#000" stroke-opacity="0.33" stroke-width="0.95" stroke-linejoin="round"/>
<polyline points="276.6,493.9 279.1,491.6" fill="none" stroke="#000" stroke-opacity="0.33" stroke-width="0.95" stroke-linejoin="round"/>
<polyline points="279.1,491.6 281.6,494.4 283.7,494.8 287.4,495.2" fill="none" stroke="#000" stroke-opacity="0.33" stroke-width="0.95" stroke-linejoin="round"/>
<polyline points="287.4,495.2 289.9,494.3 291.7,492.7 292.6,485.0 293.3,477.9" fill="none" stroke="#000" stroke-opacity="0.33" stroke-width="0.95" stroke-linejoin="round"/>
<polyline points="293.3,477.9 294.0,485.0 294.5,494.0" fill="none" stroke="#000" stroke-opacity="0.33" stroke-width="0.95" stroke-linejoin="round"/>
<polyline points="294.5,494.0 296.0,493.6" fill="none" stroke="#000" stroke-opacity="0.33" stroke-width="0.95" stroke-linejoin="round"/>
<polyline points="296.0,493.6 297.9,495.2 300.3,495.2 302.8,495.6" fill="none" stroke="#000" stroke-opacity="0.33" stroke-width="0.95" stroke-linejoin="round"/>
<polyline points="302.8,495.6 304.4,494.6 305.9,491.9" fill="none" stroke="#000" stroke-opacity="0.33" stroke-width="0.95" stroke-linejoin="round"/>
<polyline points="305.9,491.9 307.1,495.2" fill="none" stroke="#000" stroke-opacity="0.33" stroke-width="0.95" stroke-linejoin="round"/>
<polyline points="307.1,495.2 309.6,494.0 311.2,489.5" fill="none" stroke="#000" stroke-opacity="0.33" stroke-width="0.95" stroke-linejoin="round"/>
<polyline points="311.2,489.5 313.3,495.2 315.7,496.4 319.4,496.8" fill="none" stroke="#000" stroke-opacity="0.33" stroke-width="0.95" stroke-linejoin="round"/>
<polyline points="319.4,496.8 324.4,496.4" fill="none" stroke="#000" stroke-opacity="0.33" stroke-width="0.95" stroke-linejoin="round"/>
<polyline points="324.4,496.4 329.3,497.3 334.2,497.6 337.8,497.7" fill="none" stroke="#000" stroke-opacity="0.33" stroke-width="0.95" stroke-linejoin="round"/>
<polyline points="337.8,497.7 340.5,496.3" fill="none" stroke="#000" stroke-opacity="0.33" stroke-width="0.95" stroke-linejoin="round"/>
<polyline points="340.5,496.3 342.9,497.5" fill="none" stroke="#000" stroke-opacity="0.33" stroke-width="0.95" stroke-linejoin="round"/>
<polyline points="342.9,497.5 344.2,494.5 345.4,489.9" fill="none" stroke="#000" stroke-opacity="0.33" stroke-width="0.95" stroke-linejoin="round"/>
<polyline points="345.4,489.9 346.6,495.0 348.4,497.7" fill="none" stroke="#000" stroke-opacity="0.33" stroke-width="0.95" stroke-linejoin="round"/>
<polyline points="348.4,497.7 351.6,497.5" fill="none" stroke="#000" stroke-opacity="0.33" stroke-width="0.95" stroke-linejoin="round"/>
<polyline points="351.6,497.5 356.3,497.7" fill="none" stroke="#000" stroke-opacity="0.33" stroke-width="0.95" stroke-linejoin="round"/>
<polyline points="356.3,497.7 358.6,496.6" fill="none" stroke="#000" stroke-opacity="0.33" stroke-width="0.95" stroke-linejoin="round"/>
<polyline points="358.6,496.6 360.4,498.2 364.6,498.5" fill="none" stroke="#000" stroke-opacity="0.33" stroke-width="0.95" stroke-linejoin="round"/>
<polyline points="364.6,498.5 367.8,498.2 370.6,497.5" fill="none" stroke="#000" stroke-opacity="0.33" stroke-width="0.95" stroke-linejoin="round"/>
<polyline points="370.6,497.5 373.8,498.5" fill="none" stroke="#000" stroke-opacity="0.33" stroke-width="0.95" stroke-linejoin="round"/>
<polyline points="373.8,498.5 377.3,497.1" fill="none" stroke="#000" stroke-opacity="0.33" stroke-width="0.95" stroke-linejoin="round"/>
<polyline points="377.3,497.1 379.5,498.2 386.3,498.2 392.0,498.2" fill="none" stroke="#000" stroke-opacity="0.33" stroke-width="0.95" stroke-linejoin="round"/>
<polyline points="392.0,498.2 398.7,497.5" fill="none" stroke="#000" stroke-opacity="0.33" stroke-width="0.95" stroke-linejoin="round"/>
<polyline points="398.7,497.5 401.0,498.2" fill="none" stroke="#000" stroke-opacity="0.33" stroke-width="0.95" stroke-linejoin="round"/>
<polyline points="401.0,498.2 405.0,497.7" fill="none" stroke="#000" stroke-opacity="0.33" stroke-width="0.95" stroke-linejoin="round"/>
<polyline points="405.0,497.7 408.9,498.5" fill="none" stroke="#000" stroke-opacity="0.33" stroke-width="0.95" stroke-linejoin="round"/>
<polyline points="408.9,498.5 414.5,498.2 418.5,497.1" fill="none" stroke="#000" stroke-opacity="0.33" stroke-width="0.95" stroke-linejoin="round"/>
<polyline points="418.5,497.1 421.3,498.5 424.2,498.8" fill="none" stroke="#000" stroke-opacity="0.33" stroke-width="0.95" stroke-linejoin="round"/>
<polyline points="424.2,498.8 427.0,497.7" fill="none" stroke="#000" stroke-opacity="0.33" stroke-width="0.95" stroke-linejoin="round"/>
<polyline points="427.0,497.7 429.5,498.0 434.0,498.5" fill="none" stroke="#000" stroke-opacity="0.33" stroke-width="0.95" stroke-linejoin="round"/>
<polyline points="434.0,498.5 438.0,497.1" fill="none" stroke="#000" stroke-opacity="0.33" stroke-width="0.95" stroke-linejoin="round"/>
<polyline points="438.0,497.1 442.0,497.7" fill="none" stroke="#000" stroke-opacity="0.33" stroke-width="0.95" stroke-linejoin="round"/>
<polyline points="442.0,497.7 445.3,496.9" fill="none" stroke="#000" stroke-opacity="0.33" stroke-width="0.95" stroke-linejoin="round"/>
<polyline points="445.3,496.9 448.7,497.3" fill="none" stroke="#000" stroke-opacity="0.33" stroke-width="0.95" stroke-linejoin="round"/>
<polyline points="448.7,497.3 451.2,496.2 452.7,493.5" fill="none" stroke="#000" stroke-opacity="0.33" stroke-width="0.95" stroke-linejoin="round"/>
<polyline points="452.7,493.5 454.4,497.3" fill="none" stroke="#000" stroke-opacity="0.33" stroke-width="0.95" stroke-linejoin="round"/>
<polyline points="454.4,497.3 457.8,496.9 462.3,496.6" fill="none" stroke="#000" stroke-opacity="0.33" stroke-width="0.95" stroke-linejoin="round"/>
<polyline points="462.3,496.6 466.8,496.9 471.6,497.1" fill="none" stroke="#000" stroke-opacity="0.33" stroke-width="0.95" stroke-linejoin="round"/>
<line x1="322.5" y1="300.2" x2="322.5" y2="388.4" stroke="#a9a9a9" stroke-width="1.0"/>
<line x1="322.5" y1="388.4" x2="446.7" y2="388.4" stroke="#a9a9a9" stroke-width="1.0"/>
<line x1="320.7" y1="388.4" x2="322.5" y2="388.4" stroke="#c0c0c0" stroke-width="0.8"/>
<line x1="321.5" y1="386.0" x2="322.5" y2="386.0" stroke="#c0c0c0" stroke-width="0.8"/>
<line x1="321.5" y1="383.7" x2="322.5" y2="383.7" stroke="#c0c0c0" stroke-width="0.8"/>
<line x1="321.5" y1="381.3" x2="322.5" y2="381.3" stroke="#c0c0c0" stroke-width="0.8"/>
<line x1="320.7" y1="379.0" x2="322.5" y2="379.0" stroke="#c0c0c0" stroke-width="0.8"/>
<line x1="321.5" y1="376.6" x2="322.5" y2="376.6" stroke="#c0c0c0" stroke-width="0.8"/>
<line x1="321.5" y1="374.3" x2="322.5" y2="374.3" stroke="#c0c0c0" stroke-width="0.8"/>
<line x1="321.5" y1="371.9" x2="322.5" y2="371.9" stroke="#c0c0c0" stroke-width="0.8"/>
<line x1="320.7" y1="369.6" x2="322.5" y2="369.6" stroke="#c0c0c0" stroke-width="0.8"/>
<line x1="321.5" y1="367.2" x2="322.5" y2="367.2" stroke="#c0c0c0" stroke-width="0.8"/>
<line x1="321.5" y1="364.9" x2="322.5" y2="364.9" stroke="#c0c0c0" stroke-width="0.8"/>
<line x1="321.5" y1="362.5" x2="322.5" y2="362.5" stroke="#c0c0c0" stroke-width="0.8"/>
<line x1="320.7" y1="360.2" x2="322.5" y2="360.2" stroke="#c0c0c0" stroke-width="0.8"/>
<line x1="321.5" y1="357.8" x2="322.5" y2="357.8" stroke="#c0c0c0" stroke-width="0.8"/>
<line x1="321.5" y1="355.5" x2="322.5" y2="355.5" stroke="#c0c0c0" stroke-width="0.8"/>
<line x1="321.5" y1="353.1" x2="322.5" y2="353.1" stroke="#c0c0c0" stroke-width="0.8"/>
<line x1="320.7" y1="350.8" x2="322.5" y2="350.8" stroke="#c0c0c0" stroke-width="0.8"/>
<line x1="321.5" y1="348.4" x2="322.5" y2="348.4" stroke="#c0c0c0" stroke-width="0.8"/>
<line x1="321.5" y1="346.1" x2="322.5" y2="346.1" stroke="#c0c0c0" stroke-width="0.8"/>
<line x1="321.5" y1="343.8" x2="322.5" y2="343.8" stroke="#c0c0c0" stroke-width="0.8"/>
<line x1="320.7" y1="341.4" x2="322.5" y2="341.4" stroke="#c0c0c0" stroke-width="0.8"/>
<line x1="321.5" y1="339.0" x2="322.5" y2="339.0" stroke="#c0c0c0" stroke-width="0.8"/>
<line x1="321.5" y1="336.7" x2="322.5" y2="336.7" stroke="#c0c0c0" stroke-width="0.8"/>
<line x1="321.5" y1="334.3" x2="322.5" y2="334.3" stroke="#c0c0c0" stroke-width="0.8"/>
<line x1="320.7" y1="332.0" x2="322.5" y2="332.0" stroke="#c0c0c0" stroke-width="0.8"/>
<line x1="321.5" y1="329.6" x2="322.5" y2="329.6" stroke="#c0c0c0" stroke-width="0.8"/>
<line x1="321.5" y1="327.3" x2="322.5" y2="327.3" stroke="#c0c0c0" stroke-width="0.8"/>
<line x1="321.5" y1="324.9" x2="322.5" y2="324.9" stroke="#c0c0c0" stroke-width="0.8"/>
<line x1="320.7" y1="322.6" x2="322.5" y2="322.6" stroke="#c0c0c0" stroke-width="0.8"/>
<line x1="321.5" y1="320.2" x2="322.5" y2="320.2" stroke="#c0c0c0" stroke-width="0.8"/>
<line x1="321.5" y1="317.9" x2="322.5" y2="317.9" stroke="#c0c0c0" stroke-width="0.8"/>
<line x1="321.5" y1="315.5" x2="322.5" y2="315.5" stroke="#c0c0c0" stroke-width="0.8"/>
<line x1="320.7" y1="313.2" x2="322.5" y2="313.2" stroke="#c0c0c0" stroke-width="0.8"/>
<line x1="321.5" y1="310.8" x2="322.5" y2="310.8" stroke="#c0c0c0" stroke-width="0.8"/>
<line x1="321.5" y1="308.5" x2="322.5" y2="308.5" stroke="#c0c0c0" stroke-width="0.8"/>
<line x1="321.5" y1="306.1" x2="322.5" y2="306.1" stroke="#c0c0c0" stroke-width="0.8"/>
<line x1="320.7" y1="303.8" x2="322.5" y2="303.8" stroke="#c0c0c0" stroke-width="0.8"/>
<line x1="321.5" y1="301.4" x2="322.5" y2="301.4" stroke="#c0c0c0" stroke-width="0.8"/>
<line x1="328.7" y1="388.4" x2="328.7" y2="389.59999999999997" stroke="#d0d0d0" stroke-width="0.7"/>
<line x1="335.0" y1="388.4" x2="335.0" y2="389.59999999999997" stroke="#d0d0d0" stroke-width="0.7"/>
<line x1="341.2" y1="388.4" x2="341.2" y2="389.59999999999997" stroke="#d0d0d0" stroke-width="0.7"/>
<line x1="347.5" y1="388.4" x2="347.5" y2="389.59999999999997" stroke="#d0d0d0" stroke-width="0.7"/>
<line x1="353.7" y1="388.4" x2="353.7" y2="389.59999999999997" stroke="#d0d0d0" stroke-width="0.7"/>
<line x1="359.9" y1="388.4" x2="359.9" y2="389.59999999999997" stroke="#d0d0d0" stroke-width="0.7"/>
<line x1="366.2" y1="388.4" x2="366.2" y2="389.59999999999997" stroke="#d0d0d0" stroke-width="0.7"/>
<line x1="372.4" y1="388.4" x2="372.4" y2="389.59999999999997" stroke="#d0d0d0" stroke-width="0.7"/>
<line x1="378.7" y1="388.4" x2="378.7" y2="389.59999999999997" stroke="#d0d0d0" stroke-width="0.7"/>
<line x1="384.9" y1="388.4" x2="384.9" y2="389.59999999999997" stroke="#d0d0d0" stroke-width="0.7"/>
<line x1="391.1" y1="388.4" x2="391.1" y2="389.59999999999997" stroke="#d0d0d0" stroke-width="0.7"/>
<line x1="397.4" y1="388.4" x2="397.4" y2="389.59999999999997" stroke="#d0d0d0" stroke-width="0.7"/>
<line x1="403.6" y1="388.4" x2="403.6" y2="389.59999999999997" stroke="#d0d0d0" stroke-width="0.7"/>
<line x1="409.9" y1="388.4" x2="409.9" y2="389.59999999999997" stroke="#d0d0d0" stroke-width="0.7"/>
<line x1="416.1" y1="388.4" x2="416.1" y2="389.59999999999997" stroke="#d0d0d0" stroke-width="0.7"/>
<line x1="422.3" y1="388.4" x2="422.3" y2="389.59999999999997" stroke="#d0d0d0" stroke-width="0.7"/>
<line x1="428.6" y1="388.4" x2="428.6" y2="389.59999999999997" stroke="#d0d0d0" stroke-width="0.7"/>
<line x1="434.8" y1="388.4" x2="434.8" y2="389.59999999999997" stroke="#d0d0d0" stroke-width="0.7"/>
<line x1="441.1" y1="388.4" x2="441.1" y2="389.59999999999997" stroke="#d0d0d0" stroke-width="0.7"/>
<text x="282.0" y="329.0" font-size="12.3" text-anchor="start" font-weight="normal" fill="#000" stroke="#000" stroke-width="0.14" >1400</text>
<text x="282.0" y="347.8" font-size="12.3" text-anchor="start" font-weight="normal" fill="#000" stroke="#000" stroke-width="0.14" >1000</text>
<text x="282.6" y="366.20000000000005" font-size="12.3" text-anchor="start" font-weight="normal" fill="#000" stroke="#000" stroke-width="0.14" >600</text>
<text x="282.6" y="385.3" font-size="12.3" text-anchor="start" font-weight="normal" fill="#000" stroke="#000" stroke-width="0.14" >200</text>
<text x="312.5" y="398.90000000000003" font-size="12" text-anchor="middle" font-weight="normal" fill="#000" stroke="#000" stroke-width="0.14" >0</text>
<text x="335.3" y="402.3" font-size="12" text-anchor="middle" font-weight="normal" fill="#000" stroke="#000" stroke-width="0.14" >200</text>
<text x="366.5" y="402.3" font-size="12" text-anchor="middle" font-weight="normal" fill="#000" stroke="#000" stroke-width="0.14" >250</text>
<text x="398.0" y="402.3" font-size="12" text-anchor="middle" font-weight="normal" fill="#000" stroke="#000" stroke-width="0.14" >300</text>
<text x="428.8" y="402.3" font-size="12" text-anchor="middle" font-weight="normal" fill="#000" stroke="#000" stroke-width="0.14" >350</text>
<text x="453.6" y="398.8" font-size="12" text-anchor="start" font-weight="normal" fill="#000" stroke="#000" stroke-width="0.14" >nm</text>
<text x="283.8" y="308.7" font-size="10.4" text-anchor="start" font-weight="normal" fill="#000" stroke="#000" stroke-width="0.14" >mAU</text>
<text x="401.6" y="331.6" font-size="10" text-anchor="start" font-weight="bold" fill="#000" stroke="#000" stroke-width="0.0" >THNG</text>
<polyline points="322.5,369.6 324.9,358.9 327.5,346.8 330.1,336.5 332.7,328.7 335.3,323.5 337.0,323.0 338.7,324.7 340.5,325.2 343.0,320.9 345.6,314.9 348.2,308.8 350.8,304.5 352.2,304.0 353.8,307.1 354.8,315.7 356.0,333.0 357.4,355.4 358.6,371.0 360.3,377.9 363.4,381.1 366.4,380.8 369.8,379.6 374.2,378.2 379.0,375.8 384.0,374.2 388.1,373.6 391.3,374.2 395.5,376.7 399.6,378.5 404.5,378.0 409.4,377.2 413.5,377.5 416.8,379.3 420.9,382.1 425.8,384.2 432.4,384.6 439.0,384.6 446.4,384.6" fill="none" stroke="#afafaf" stroke-width="1.0" stroke-linejoin="round"/>
<polyline points="276.5,321.0 229.4,332.7" fill="none" stroke="#1a1a1a" stroke-width="1.0"/>
<polygon points="224.0,334.0 230.1,329.4 231.5,335.2" fill="#1a1a1a"/>
<polyline points="315.6,432.8 282.2,432.8" fill="none" stroke="#1a1a1a" stroke-width="1.0"/>
<polygon points="276.6,432.8 283.6,429.8 283.6,435.8" fill="#1a1a1a"/>
<text x="322.5" y="436.4" font-size="10.3" text-anchor="start" font-weight="normal" fill="#000" stroke="#000" stroke-width="0.14" >2-hydroxy-1,4-naphthoquinone</text>
<text x="322.7" y="463.1" font-size="10.25" text-anchor="start" font-weight="normal" fill="#000" stroke="#000" stroke-width="0.14" >2-methoxy-1,4-naphthoquinone</text>
<polyline points="329.6,466.0 318.9,480.7" fill="none" stroke="#1a1a1a" stroke-width="1.0"/>
<polygon points="315.6,485.2 317.3,477.8 322.1,481.3" fill="#1a1a1a"/>
</g>
</svg>
</body></html>
